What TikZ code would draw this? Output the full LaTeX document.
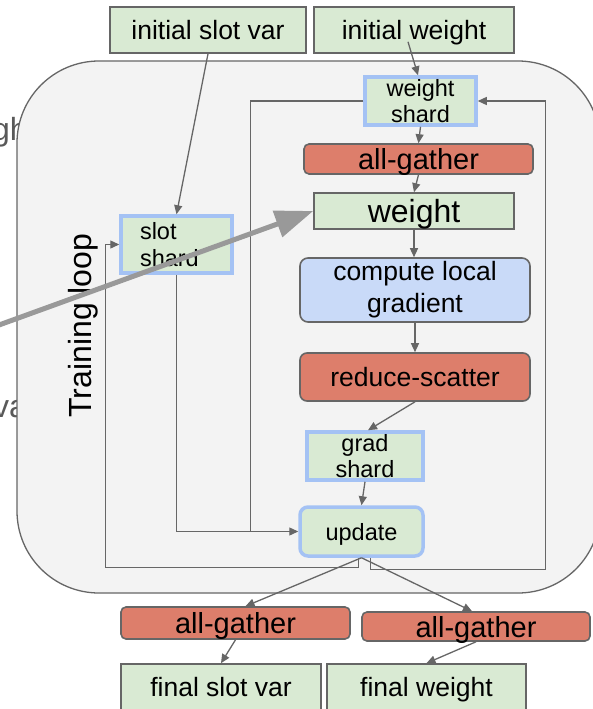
\documentclass[tikz,border=0pt]{standalone}
\usepackage{fontspec}
\setmainfont{Liberation Sans}
\usetikzlibrary{arrows.meta}
\definecolor{gfill}{HTML}{D9EAD3}
\definecolor{bfill}{HTML}{C9DAF8}
\definecolor{rfill}{HTML}{DD7E6B}
\definecolor{bblue}{HTML}{A4C2F4}
\definecolor{lgray}{HTML}{666666}
\definecolor{bgfill}{HTML}{F3F3F3}
\definecolor{thickgray}{HTML}{999999}
\definecolor{lefttext}{HTML}{595959}
\begin{document}
\begin{tikzpicture}[x=1pt,y=-1pt,
  base/.style={inner sep=0pt, text=black},
  greenbox/.style={base, draw=lgray, line width=1.6pt, fill=gfill, text depth=0pt, font=\fontsize{26.5}{32}\selectfont},
  shardbox/.style={base, draw=bblue, line width=3.5pt, fill=gfill, align=center, font=\fontsize{23.5}{26.5}\selectfont},
  updbox/.style={base, draw=bblue, line width=3.5pt, fill=gfill, rounded corners=8pt, text depth=0pt, font=\fontsize{23.5}{26.5}\selectfont},
  redbox/.style={base, draw=lgray, line width=1.6pt, fill=rfill, rounded corners=5pt, text depth=0pt, font=\fontsize{29}{34}\selectfont},
  redbox2/.style={base, draw=lgray, line width=1.6pt, fill=rfill, rounded corners=7pt, text depth=0pt, font=\fontsize{26.5}{32}\selectfont},
  bluebox/.style={base, draw=lgray, line width=1.6pt, fill=bfill, rounded corners=8pt, align=center, font=\fontsize{26.5}{32}\selectfont},
  arr/.style={draw=lgray, line width=1.3pt, -{Triangle[length=9pt,width=8pt]}},
  ln/.style={draw=lgray, line width=1.3pt},
  bigarr/.style={draw=thickgray, line width=5pt, -{Triangle[length=38pt,width=27pt]}},
  sidetext/.style={base, anchor=base west, text=lefttext, font=\fontsize{32}{38}\selectfont}
]
\useasboundingbox (0,0) rectangle (592,709);

% text fragments partly hidden behind the loop panel
\node[sidetext] (gh) at (-8,140) {gh};
\node[sidetext] (va) at (-7,417) {va};

% training loop panel
\draw[draw=lgray, line width=1.3pt, fill=bgfill, rounded corners=82pt] (17,61) rectangle (600,593);

\node[base, rotate=90, text depth=0pt, font=\fontsize{32}{38}\selectfont] (tl) at (80,325.5) {Training loop};

% nodes
\node[greenbox, minimum width=196pt, minimum height=46pt] (isv) at (208,30) {initial slot var};
\node[greenbox, minimum width=200pt, minimum height=46pt] (iw) at (414,30) {initial weight};
\node[shardbox, minimum width=111pt, minimum height=48pt] (ws) at (420.5,101) {weight\\shard};
\node[redbox, minimum width=229pt, minimum height=30pt] (ag1) at (418.5,159) {all-gather};
\node[greenbox, minimum width=200pt, minimum height=36pt, font=\fontsize{32}{38}\selectfont] (w) at (414,211) {weight};
\node[bluebox, minimum width=230pt, minimum height=64pt] (clg) at (415,290) {compute local\\gradient};
\node[redbox2, minimum width=230pt, minimum height=48pt] (rs) at (415,377) {reduce-scatter};
\node[shardbox, minimum width=116pt, minimum height=48pt] (gs) at (365,456) {grad\\shard};
\node[updbox, minimum width=123pt, minimum height=49pt] (up) at (361.5,531.5) {update};
\node[shardbox, minimum width=111pt, minimum height=57pt, text width=73pt, align=left] (ss) at (176.5,244.5) {slot\\shard};
\node[redbox, minimum width=229pt, minimum height=32pt] (agl) at (235.5,623) {all-gather};
\node[redbox, minimum width=228pt, minimum height=29pt] (agr) at (476,626.5) {all-gather};
\node[greenbox, minimum width=200pt, minimum height=46pt] (fsv) at (221,687) {final slot var};
\node[greenbox, minimum width=199pt, minimum height=46pt] (fw) at (426.5,687) {final weight};

% loop connectors
\draw[arr] (ws.west) -| ([xshift=-48pt]up.west) -- (up.west);
\draw[ln] (ss.south) |- ([xshift=-48pt]up.west);
\draw[arr] ([xshift=-3pt]up.south) -- ++(0,10) -| ([xshift=-14pt]ss.west) -- (ss.west);
\draw[arr] ([xshift=9pt]up.south) -- ++(0,12) -| ([xshift=68pt]ws.east) -- (ws.east);

% main flow
\draw[arr] (isv.south) -- (ss.north);
\draw[arr] ([xshift=-6pt,yshift=12pt]iw.south) -- ([xshift=-2.5pt]ws.north);
\draw[arr] (ws.south) -- (ag1.north);
\draw[arr] (ag1.south) -- (w.north);
\draw[arr] (w.south) -- (w.south |- clg.north);
\draw[arr] (clg.south) -- (rs.north);
\draw[arr] (rs.south) -- ([xshift=3pt]gs.north);
\draw[arr] (gs.south) -- (up.north);
\draw[arr] (up.south) -- ([xshift=10pt]agl.north);
\draw[arr] (up.south) -- ([xshift=-4pt]agr.north);
\draw[arr] (agl.south) -- (fsv.north);
\draw[arr] (agr.south) -- (fw.north);

% thick grey arrow
\coordinate (tail) at (-12,329);
\draw[bigarr] (tail) -- (w.west);
\end{tikzpicture}
\end{document}
